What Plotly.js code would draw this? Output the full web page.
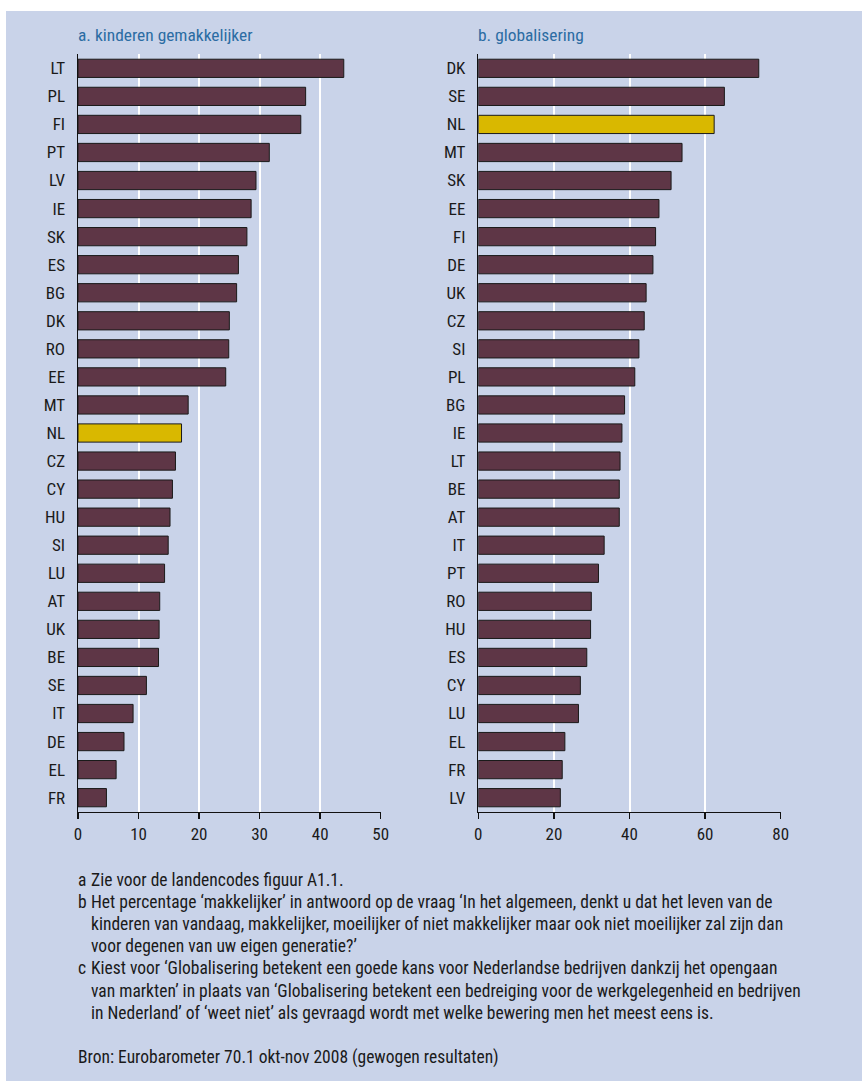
<!DOCTYPE html>
<html>
<head>
<meta charset="utf-8">
<script src="https://cdn.plot.ly/plotly-3.0.1.min.js"></script>
<style>html,body{margin:0;padding:0;background:#fff;}#chart{width:862px;height:1081px;}</style>
</head>
<body>
<div id="chart"></div>
<script>
// Panel a: kinderen gemakkelijker
const catsA = ["LT","PL","FI","PT","LV","IE","SK","ES","BG","DK","RO","EE","MT","NL","CZ","CY","HU","SI","LU","AT","UK","BE","SE","IT","DE","EL","FR"];
const valsA = [43.9,37.6,36.8,31.6,29.4,28.6,27.9,26.5,26.2,25.0,24.9,24.4,18.2,17.1,16.1,15.6,15.2,14.9,14.3,13.5,13.4,13.3,11.3,9.1,7.6,6.3,4.7];
// Panel b: globalisering
const catsB = ["DK","SE","NL","MT","SK","EE","FI","DE","UK","CZ","SI","PL","BG","IE","LT","BE","AT","IT","PT","RO","HU","ES","CY","LU","EL","FR","LV"];
const valsB = [74.2,65.1,62.4,53.9,51.0,47.8,46.9,46.2,44.4,43.9,42.5,41.4,38.7,38.0,37.5,37.3,37.3,33.3,31.8,29.9,29.7,28.7,27.0,26.5,22.9,22.2,21.7];
const titleA = "a. kinderen gemakkelijker";
const titleB = "b. globalisering";
const ticksA = [0,10,20,30,40,50];
const ticksB = [0,20,40,60,80];
const notes = [
  ["a", "Zie voor de landencodes figuur A1.1."],
  ["b", "Het percentage \u2018makkelijker\u2019 in antwoord op de vraag \u2018In het algemeen, denkt u dat het leven van de"],
  ["", "kinderen van vandaag, makkelijker, moeilijker of niet makkelijker maar ook niet moeilijker zal zijn dan"],
  ["", "voor degenen van uw eigen generatie?\u2019"],
  ["c", "Kiest voor \u2018Globalisering betekent een goede kans voor Nederlandse bedrijven dankzij het opengaan"],
  ["", "van markten\u2019 in plaats van \u2018Globalisering betekent een bedreiging voor de werkgelegenheid en bedrijven"],
  ["", "in Nederland\u2019 of \u2018weet niet\u2019 als gevraagd wordt met welke bewering men het meest eens is."]
];
const source = "Bron: Eurobarometer 70.1 okt-nov 2008 (gewogen resultaten)";

const W = 862, H = 1081;
const FONT = "'Roboto Condensed', 'Liberation Sans Narrow', 'Liberation Sans', sans-serif";
const BAR = "#5E3646", HL = "#D9B800", BG = "#C9D3E9", PLOT = "#F2E1A7", TXT = "#1a1a1a";
const px = x => x / W;
const py = y => 1 - y / H;

function colors(cats){ return cats.map(c => c === "NL" ? HL : BAR); }

const traces = [
  {type:"bar", orientation:"h", x: valsA, y: catsA, xaxis:"x", yaxis:"y",
   marker:{color: colors(catsA), line:{color:"#1a1a1a", width:1}}, hoverinfo:"x+y"},
  {type:"bar", orientation:"h", x: valsB, y: catsB, xaxis:"x2", yaxis:"y2",
   marker:{color: colors(catsB), line:{color:"#1a1a1a", width:1}}, hoverinfo:"x+y"}
];

const yTop = py(54.3), yBot = py(811.7);
function xax(dom, ticks, anchor){
  return {domain: dom, range:[0, ticks[ticks.length-1]], tickvals: ticks, ticktext: ticks.map(String),
    showgrid:true, gridcolor:"#ffffff", gridwidth:2, zeroline:false,
    showline:true, linecolor:"#111", linewidth:1.5, ticks:"outside", ticklen:6, tickcolor:"#111", tickwidth:1.5,
    tickfont:{family:FONT, size:17, color:TXT}, ticklabelstandoff:0, anchor: anchor, fixedrange:true};
}
function yax(anchor, cats){
  return {domain:[yBot, yTop], range:[cats.length-0.5, -0.5], type:"category", categoryorder:"array", categoryarray: cats,
    showgrid:false, zeroline:false, showline:true, linecolor:"#111", linewidth:1.5, ticks:"",
    tickfont:{family:FONT, size:17, color:TXT}, ticklabelstandoff:8, anchor: anchor, fixedrange:true};
}

const annotations = [
  {text:titleA, xref:"paper", yref:"paper", x:px(76), y:py(35), xanchor:"left", yanchor:"middle", showarrow:false,
   font:{family:FONT, size:17.4, color:"#2B6CA3"}},
  {text:titleB, xref:"paper", yref:"paper", x:px(476), y:py(35), xanchor:"left", yanchor:"middle", showarrow:false,
   font:{family:FONT, size:17.4, color:"#2B6CA3"}}
];
notes.forEach((n, i) => {
  const y = 880 + i * 22.1;
  if (n[0]) annotations.push({text:n[0], xref:"paper", yref:"paper", x:px(76), y:py(y), xanchor:"left", yanchor:"middle",
    showarrow:false, font:{family:FONT, size:17.5, color:TXT}});
  annotations.push({text:n[1], xref:"paper", yref:"paper", x:px(89), y:py(y), xanchor:"left", yanchor:"middle",
    showarrow:false, font:{family:FONT, size:17.5, color:TXT}});
});
annotations.push({text:source, xref:"paper", yref:"paper", x:px(76), y:py(1057), xanchor:"left", yanchor:"middle",
  showarrow:false, font:{family:FONT, size:17.5, color:TXT}});

const layout = {
  width: W, height: H, margin:{l:0, r:0, t:0, b:0},
  paper_bgcolor:"#ffffff", plot_bgcolor: PLOT, showlegend:false, bargap:0.35,
  xaxis: xax([px(78), px(380.7)], ticksA, "y"),
  yaxis: yax("x", catsA),
  xaxis2: xax([px(478.3), px(780.7)], ticksB, "y2"),
  yaxis2: yax("x2", catsB),
  shapes:[{type:"rect", xref:"paper", yref:"paper", x0:px(6), x1:1, y0:0, y1:py(11), fillcolor:BG, line:{width:0}, layer:"below"}],
  annotations: annotations
};

Plotly.newPlot("chart", traces, layout, {displayModeBar:false, staticPlot:true});
</script>
</body>
</html>
